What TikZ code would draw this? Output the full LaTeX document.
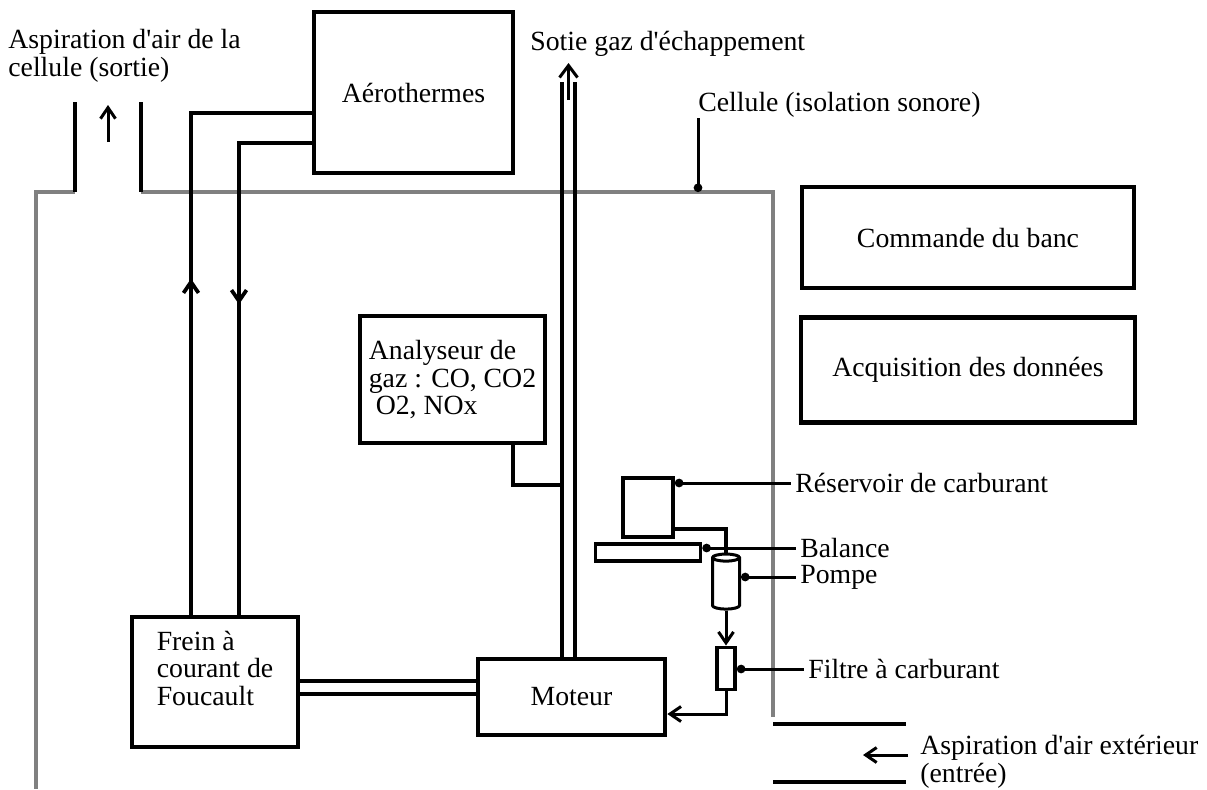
\documentclass[tikz,border=0pt]{standalone}
\usepackage{fontspec}
\setmainfont{Liberation Serif}[Ligatures=TeXOff]
\usetikzlibrary{shapes.geometric, arrows, arrows.meta, positioning, decorations.markings}
\tikzstyle{box} = [
	rectangle,
	text centered,
	draw=black,
	line width=0.095cm,
]
\tikzstyle{tag} = [inner sep=0, align=left]
\tikzstyle{tagr} = [inner xsep=0.08cm, inner ysep=0, anchor=west]
\tikzstyle{pipe} = [line width=0.075cm]
\tikzstyle{arrow} = [line width=0.06cm, ->]
\tikzstyle{leader} = [line width=0.06cm, {Circle[length=0.17cm]}-]
\tikzstyle{wall} = [line width=0.07cm, black!50]
\tikzset{midarrow/.style={postaction={decorate}, decoration={markings, mark=at position #1 with {\arrow{>}}}}}

\begin{document}
\begin{tikzpicture}[x=0.02cm, y=-0.02cm, >={Straight Barb[length=0.22cm,width=0.3cm]},
	font=\fontsize{15.8pt}{15.7pt}\selectfont]
		\useasboundingbox (0,0) rectangle (1207,789);

		% cellule
		\draw [wall] (75,192) -- (36,192) -- (36,789);
		\draw [wall] (141,192) -- (773,192) -- (773,717);
		\draw [pipe] (75,102) -- (75,192);
		\draw [pipe] (141,102) -- (141,192);
		\draw [pipe] (773,724) -- (906,724);
		\draw [pipe] (773,782) -- (906,782);
		\draw [arrow] (108,142) -- (108,105);
		\draw [arrow] (908,755) -- (863,755);

		\node (aero) [box, minimum width=3.98cm, minimum height=3.22cm] at (413.5,92.5) {Aérothermes};
		\node (commande) [box, minimum width=6.64cm, minimum height=2.02cm] at (968,237.5) {Commande du banc};
		\node (acquisition) [box, minimum width=6.68cm, minimum height=2.1cm, below=0.5cm of commande] {Acquisition des données};
		\node (analyseur) [box, align=left, minimum width=3.7cm, minimum height=2.54cm] at (452.5,379.5) {Analyseur de\\gaz : CO, CO2\\\ O2, NOx};
		\node (frein) [box, align=left, minimum width=3.32cm, minimum height=2.6cm] at (215,682) {Frein à\\courant de\\Foucault\\\mbox{}};
		\node (moteur) [box, minimum width=3.74cm, minimum height=1.52cm] at (571.5,697) {Moteur};

		\node (reservoir) [box, line width=0.075cm, minimum width=1cm, minimum height=1.18cm] at (648,507.5) {};
		\node (balance) [box, line width=0.075cm, minimum width=2.1cm, minimum height=0.34cm, below=0.06cm of reservoir] {};
		\node (pompe) [cylinder, shape border rotate=90, draw, line width=0.06cm, minimum width=0.54cm, minimum height=1.1cm, aspect=0.6] at (726,585.5) {};
		\node (filtre) [box, line width=0.075cm, minimum width=0.36cm, minimum height=0.84cm, below=0.7cm of pompe] {};

		\node (sortieair) [tag, anchor=west] at (8,56) {Aspiration d'air de la\\cellule (sortie)};
		\node (sortiegaz) [tag, anchor=west] at (530,44) {Sotie gaz d'échappement};
		\node (cellule) [tag, anchor=south west] at (698,118) {Cellule (isolation sonore)};
		\node (entreeair) [tag, anchor=west] at (920,762) {Aspiration d'air extérieur\\(entrée)};
		\node (lreservoir) [tagr] at (791,483) {Réservoir de carburant};
		\node (lbalance) [tagr] at (796,548) {Balance};
		\node (lpompe) [tagr] at (796,577) {Pompe};
		\node (lfiltre) [tagr] at (804,669) {Filtre à carburant};

		% circuit d'eau
		\draw [pipe, midarrow=0.54] ([shift={(-24,0)}]frein.north) |- ([shift={(0,20.5)}]aero.west);
		\draw [pipe, midarrow=0.43] ([shift={(0,50.5)}]aero.west) -| ([shift={(24,0)}]frein.north);

		% arbre
		\draw [pipe] ([shift={(0,-1)}]frein.east) -- ([shift={(0,-1)}]frein.east -| moteur.west);
		\draw [pipe] ([shift={(0,12)}]frein.east) -- ([shift={(0,12)}]frein.east -| moteur.west);

		% echappement
		\coordinate (echap) at (568.5,82);
		\draw [pipe] ([shift={(-6.5,0)}]echap) -- ([shift={(-6.5,0)}]echap |- moteur.north);
		\draw [pipe] ([shift={(6.5,0)}]echap) -- ([shift={(6.5,0)}]echap |- moteur.north);
		\draw [arrow, >={Straight Barb[length=0.24cm,width=0.36cm]}] ([shift={(0,18)}]echap) -- ([shift={(0,-19)}]echap);
		\coordinate (prelev) at (562,485);
		\draw [pipe] ([shift={(60.5,0)}]analyseur.south) |- (prelev);

		% carburant
		\draw [pipe] ([shift={(0,-10)}]reservoir.south east) -| (pompe.north);
		\draw [arrow] (pompe.south) -- (filtre.north);
		\draw [arrow] (filtre.south) |- ([shift={(0,17)}]moteur.east);

		% reperes
		\coordinate (paroi) at (698,192);
		\draw [leader] (paroi) -- (cellule.south west);
		\draw [leader] (reservoir.east |- lreservoir.west) -- (lreservoir.west);
		\draw [leader] (balance.east |- lbalance.west) -- (lbalance.west);
		\draw [leader] (pompe.east |- lpompe.west) -- (lpompe.west);
		\draw [leader] (filtre.east |- lfiltre.west) -- (lfiltre.west);
	\end{tikzpicture}
\end{document}
